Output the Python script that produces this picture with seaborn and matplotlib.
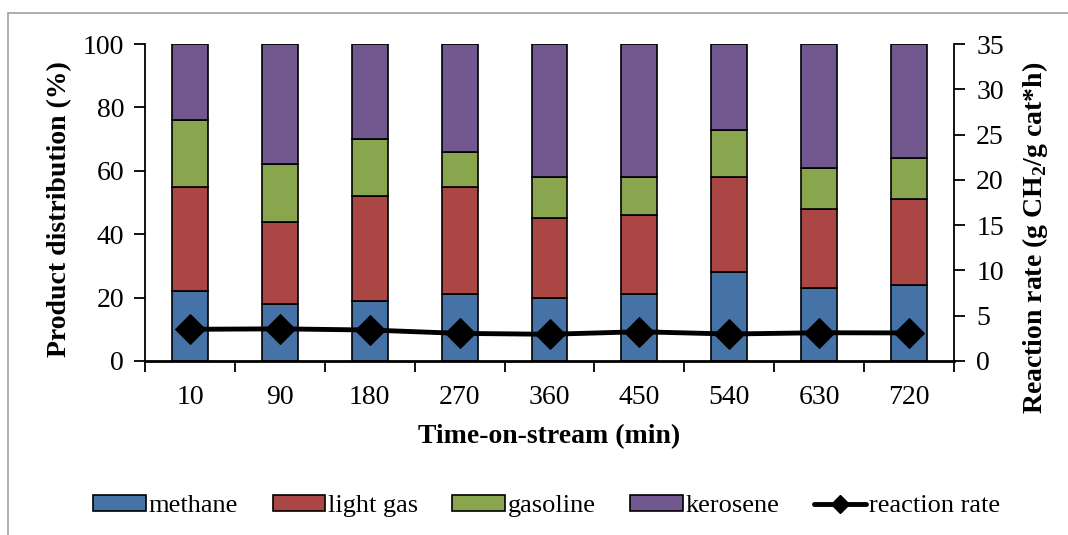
import matplotlib
matplotlib.use("Agg")
import matplotlib.pyplot as plt
from matplotlib.patches import Rectangle, Patch
from matplotlib.lines import Line2D
import numpy as np
import pandas as pd
import seaborn as sns

# ---- data ----
times = ["10", "90", "180", "270", "360", "450", "540", "630", "720"]
methane = [22, 18, 19, 21, 20, 21, 28, 23, 24]
light_gas = [33, 26, 33, 34, 25, 25, 30, 25, 27]
gasoline = [21, 18, 18, 11, 13, 12, 15, 13, 13]
kerosene = [24, 38, 30, 34, 42, 42, 27, 39, 36]
reaction_rate = [3.5, 3.55, 3.42, 3.05, 2.95, 3.23, 2.98, 3.12, 3.1]

series_names = ["methane", "light gas", "gasoline", "kerosene"]
colors = ["#4572A7", "#AA4643", "#89A54E", "#71588F"]

sns.set_theme(style="white")
plt.rcParams["font.family"] = ["Liberation Serif", "DejaVu Serif"]
plt.rcParams["mathtext.fontset"] = "custom"
plt.rcParams["mathtext.rm"] = "Liberation Serif"
plt.rcParams["mathtext.bf"] = "Liberation Serif:bold"
plt.rcParams["text.color"] = "black"
plt.rcParams["axes.labelcolor"] = "black"
plt.rcParams["xtick.color"] = "black"
plt.rcParams["ytick.color"] = "black"

fig = plt.figure(figsize=(10.68, 5.35), dpi=100)
ax = fig.add_axes([145 / 1068, 1 - 361 / 535, (954 - 145) / 1068, (361 - 44) / 535])

df = pd.DataFrame({"time": times, "methane": methane, "light gas": light_gas,
                   "gasoline": gasoline, "kerosene": kerosene})
bottom = np.zeros(len(times))
for name, col in zip(series_names, colors):
    sns.barplot(data=df, x="time", y=name, bottom=bottom, color=col, width=0.4,
                edgecolor="black", linewidth=1.2, ax=ax, saturation=1)
    bottom = bottom + df[name].values

ax.set_xlim(-0.5, len(times) - 0.5)
ax.set_ylim(0, 100)
ax.set_yticks(range(0, 101, 20))
ax.set_xticks(np.arange(len(times)))
ax.set_xticklabels(times)
ax.set_xticks(np.arange(-0.5, len(times), 1.0), minor=True)
ax.tick_params(axis="x", which="major", length=0, labelsize=20, pad=17)
ax.tick_params(axis="x", which="minor", length=8, width=1.3, direction="out", color="black", bottom=True)
ax.tick_params(axis="y", length=8, width=1.3, direction="out", labelsize=20, color="black", left=True, pad=7)
for s in ["top", "right"]:
    ax.spines[s].set_visible(False)
for s in ["left", "bottom"]:
    ax.spines[s].set_color("black")
    ax.spines[s].set_linewidth(1.3)
ax.spines["bottom"].set_linewidth(2)

ax.set_xlabel("Time-on-stream (min)", fontsize=20, fontweight="bold")
ax.xaxis.set_label_coords(0.5, -0.2)
ax.set_ylabel("Product distribution (%)", fontsize=20, fontweight="bold")
ax.yaxis.set_label_coords(-0.09, 0.48)

ax2 = ax.twinx()
ax2.set_position(ax.get_position())
sns.lineplot(x=np.arange(len(times)), y=reaction_rate, ax=ax2, color="black",
             linewidth=3.5, marker="D", markersize=15, markeredgecolor="black")
ax2.set_ylim(0, 35)
ax2.set_yticks(range(0, 36, 5))
ax2.tick_params(axis="y", length=8, width=1.3, direction="out", labelsize=20, color="black", right=True, pad=8)
for s in ["top", "left", "bottom"]:
    ax2.spines[s].set_visible(False)
ax2.spines["right"].set_color("black")
ax2.spines["right"].set_linewidth(1.3)
ax2.set_ylabel(r"Reaction rate (g CH$_\mathbf{2}$/g cat*h)", fontsize=20, fontweight="bold")
ax2.yaxis.set_label_coords(1.0815, 0.39)

handles = [Patch(facecolor=c, edgecolor="black", linewidth=1.2) for c in colors]
handles.append(Line2D([0], [0], color="black", lw=3.5, marker="D", markersize=9))
labels = series_names + ["reaction rate"]
fig.legend(handles, labels, loc="center", bbox_to_anchor=(0.512, 1 - 506 / 535), ncol=5,
           frameon=False, fontsize=19, handlelength=2.0, handleheight=0.6,
           handletextpad=0.1, columnspacing=1.3)

fig.patches.append(Rectangle((8 / 1068, -0.1), 1.2, 1.1 - 13 / 535, transform=fig.transFigure,
                             fill=False, edgecolor="#a0a0a0", linewidth=1.2))

fig.savefig("out.png", dpi=100)
